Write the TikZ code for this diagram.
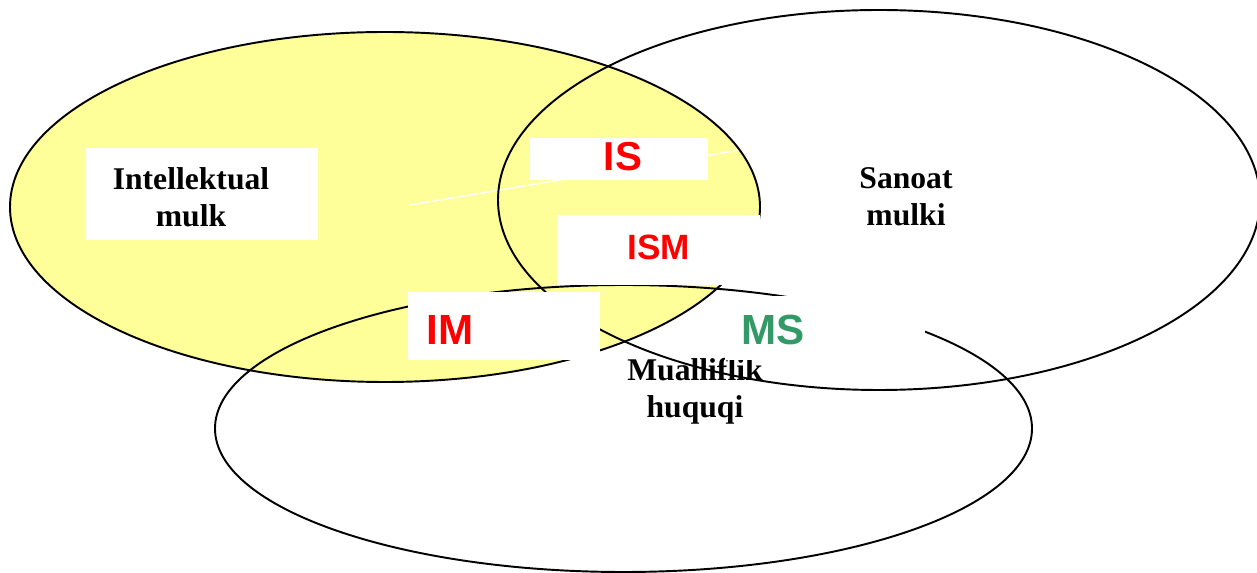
\documentclass[tikz,border=0pt]{standalone}
\usepackage{fontspec}
\setmainfont{Liberation Serif}
\newfontfamily\partfont{Liberation Sans}
\usepackage{xcolor}
\usepackage{tikz}
\definecolor{mulkyellow}{HTML}{FFFF99}
\definecolor{msgreen}{HTML}{339966}
\tikzset{
    setline/.style={line width=1.1pt},
    whitebox/.style={fill=white,draw=none,inner sep=0pt},
    setname/.style={font=\fontsize{18}{21}\selectfont\bfseries,align=center,inner sep=0pt},
    partname/.style={font=\partfont\bfseries\fontsize{24}{28}\selectfont,text=red,inner sep=0pt},
}

\begin{document}
\begin{tikzpicture}[x=0.02cm,y=-0.02cm]
\useasboundingbox (0,0) rectangle (1257,573);
    \fill[mulkyellow] (385,207) ellipse [x radius=375, y radius=175];
    \draw[line width=0.8pt,white] (410,205)--(740,150);
    \node[setname] (mualliflik) at (695,391) {Mualliflik\\huquqi};
    % the three sets
    \draw[setline] (385,207) ellipse [x radius=375, y radius=175];
    \draw[setline] (879,200) ellipse [x radius=381, y radius=190];
    \draw[setline] (623.5,428.5) ellipse [x radius=408.5, y radius=143.5];
    \node[whitebox,minimum width=4.64cm,minimum height=1.84cm] (intbox) at (202,194) {};
    \node[whitebox,minimum width=3.56cm,minimum height=0.84cm] (isbox) at (619,159) {};
    \node[whitebox,minimum width=4.06cm,minimum height=1.4cm] (ismbox) at (658.5,250) {};
    \node[whitebox,minimum width=3.84cm,minimum height=1.36cm] (imbox) at (504,326) {};
    \node[whitebox,minimum width=4.0cm,minimum height=1.28cm] (msbox) at (825,328) {};
    % labels
    \node[setname] (intellektual) at (191,197) {Intellektual\\mulk};
    \node[setname] (sanoat) at (906,197) {Sanoat\\mulki};
    \node[partname,font=\partfont\bfseries\fontsize{23}{27}\selectfont] (is) at (623,157) {IS};
    \node[partname,font=\partfont\bfseries\fontsize{20}{24}\selectfont] (ism) at (659,247) {ISM};
    \node[partname] (im) at (450,330) {IM};
    \node[partname,text=msgreen] (ms) at (773,330) {MS};
\end{tikzpicture}
\end{document}
